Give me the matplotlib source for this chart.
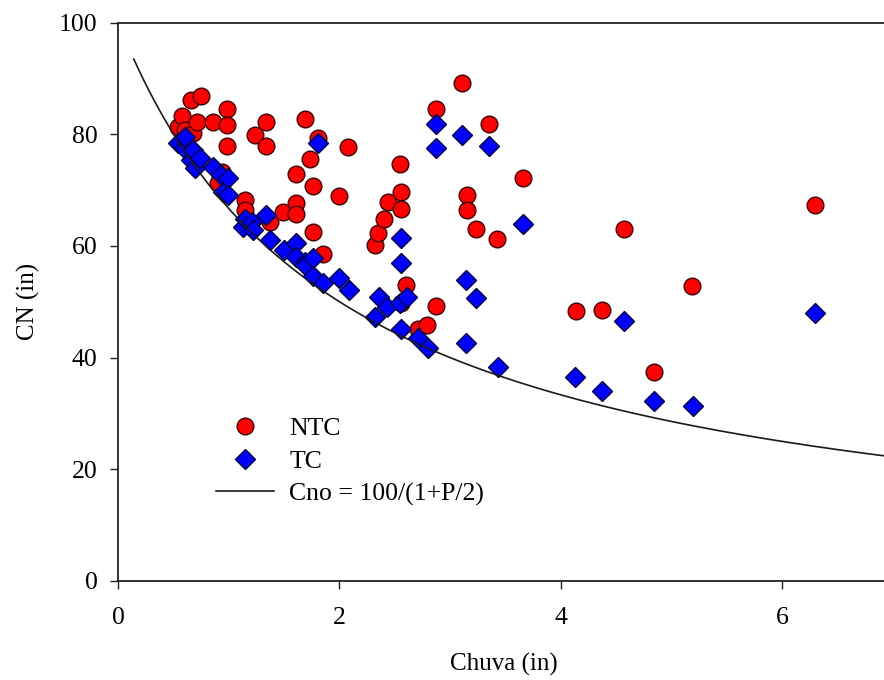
import matplotlib.pyplot as plt
import numpy as np

plt.rcParams['font.family'] = ['Liberation Serif', 'DejaVu Serif']

# rainfall (in) and curve number for untreated (NTC) and treated (TC) plots
ntc_p = [0.54, 0.58, 0.60, 0.66, 0.68, 0.71, 0.745, 0.86, 0.90, 0.935, 0.98, 0.98,
         0.98, 1.146, 1.146, 1.24, 1.34, 1.34, 1.37, 1.49, 1.607, 1.607, 1.61, 1.69,
         1.73, 1.76, 1.76, 1.81, 1.85, 2.0, 2.08, 2.32, 2.35, 2.40, 2.44, 2.55, 2.56,
         2.56, 2.56, 2.60, 2.71, 2.79, 2.87, 2.87, 3.11, 3.15, 3.15, 3.23, 3.35, 3.42,
         3.66, 4.14, 4.37, 4.57, 4.84, 5.19, 6.30]
ntc_cn = [81.3, 83.3, 80.8, 86.2, 80.2, 82.1, 86.8, 82.1, 71.2, 73.2, 84.6, 81.6,
          77.9, 68.3, 66.4, 79.9, 82.1, 77.9, 64.3, 66.1, 67.6, 65.8, 72.9, 82.8,
          75.5, 70.7, 62.5, 79.3, 58.6, 68.9, 77.7, 60.1, 62.3, 64.8, 67.8, 74.7, 69.7,
          66.6, 49.7, 53.0, 45.1, 45.8, 84.6, 49.2, 89.1, 69.1, 66.4, 63.0, 81.9, 61.2,
          72.2, 48.3, 48.5, 63.0, 37.5, 52.9, 67.3]

tc_p = [0.54, 0.59, 0.60, 0.66, 0.68, 0.69, 0.74, 0.86, 0.93, 0.95, 0.995, 0.995,
        1.13, 1.146, 1.21, 1.22, 1.335, 1.37, 1.50, 1.61, 1.61, 1.69, 1.69, 1.76,
        1.76, 1.81, 1.85, 2.0, 2.09, 2.32, 2.36, 2.43, 2.55, 2.56, 2.56, 2.56, 2.61,
        2.71, 2.80, 2.87, 2.87, 3.11, 3.14, 3.14, 3.23, 3.35, 3.43, 3.66, 4.13, 4.37,
        4.57, 4.84, 5.20, 6.30]
tc_cn = [78.4, 77.5, 79.5, 75.4, 77.2, 73.9, 75.7, 74.2, 72.7, 69.7, 72.1, 69.1,
         63.4, 64.9, 64.3, 62.8, 65.5, 61.1, 59.3, 60.5, 58.1, 57.2, 56.6, 57.8,
         54.6, 78.4, 53.3, 54.3, 52.1, 47.3, 50.9, 49.1, 49.7, 61.4, 57.0, 45.2, 50.9,
         43.5, 41.7, 81.9, 77.5, 79.9, 53.9, 42.6, 50.6, 77.9, 38.3, 64.0, 36.6, 34.1,
         46.6, 32.3, 31.4, 48.0]

# Cno = 100/(1+P/2)
p_curve = np.linspace(0.14, 7, 300)
cn_curve = 100 / (1 + p_curve / 2)

fig = plt.figure(figsize=(8.84, 6.8), dpi=100)
ax = fig.add_axes([0.1338, 0.1456, 0.8662, 0.8213])

ax.plot(ntc_p, ntc_cn, 'o', ms=12, mfc='#ff0000', mec='#3a0000', mew=1.0,
        ls='none', label='NTC', zorder=2)
ax.plot(tc_p, tc_cn, 'D', ms=10.5, mfc='#0000ff', mec='#00003a', mew=1.0,
        ls='none', label='TC', zorder=3)
ax.plot(p_curve, cn_curve, color='#1a1a1a', lw=1.2,
        label='Cno = 100/(1+P/2)', zorder=4)

ax.set_xlim(0, 6.923)
ax.set_ylim(0, 100)
ax.set_xticks([0, 2, 4, 6])
ax.set_yticks([0, 20, 40, 60, 80, 100])
ax.tick_params(direction='out', length=6, width=1.0, labelsize=18.5, color='#222222')
ax.tick_params(axis='x', pad=13)
ax.tick_params(axis='y', pad=9)
ax.spines['right'].set_visible(False)
for s in ['left', 'bottom', 'top']:
    ax.spines[s].set_linewidth(1.3)
    ax.spines[s].set_color('#222222')

ax.set_xlabel('Chuva (in)', fontsize=18)
ax.set_ylabel('CN (in)', fontsize=18)
ax.xaxis.set_label_coords(0.504, -0.128)
ax.yaxis.set_label_coords(-0.102, 0.5)

ax.legend(loc='upper left', bbox_to_anchor=(216 / 884, (680 - 417) / 680),
          bbox_transform=fig.transFigure, frameon=False, fontsize=18.5,
          borderpad=0, borderaxespad=0, handlelength=2.25, handletextpad=0.6,
          labelspacing=0.38, numpoints=1)

fig.savefig('out.png', dpi=100)
